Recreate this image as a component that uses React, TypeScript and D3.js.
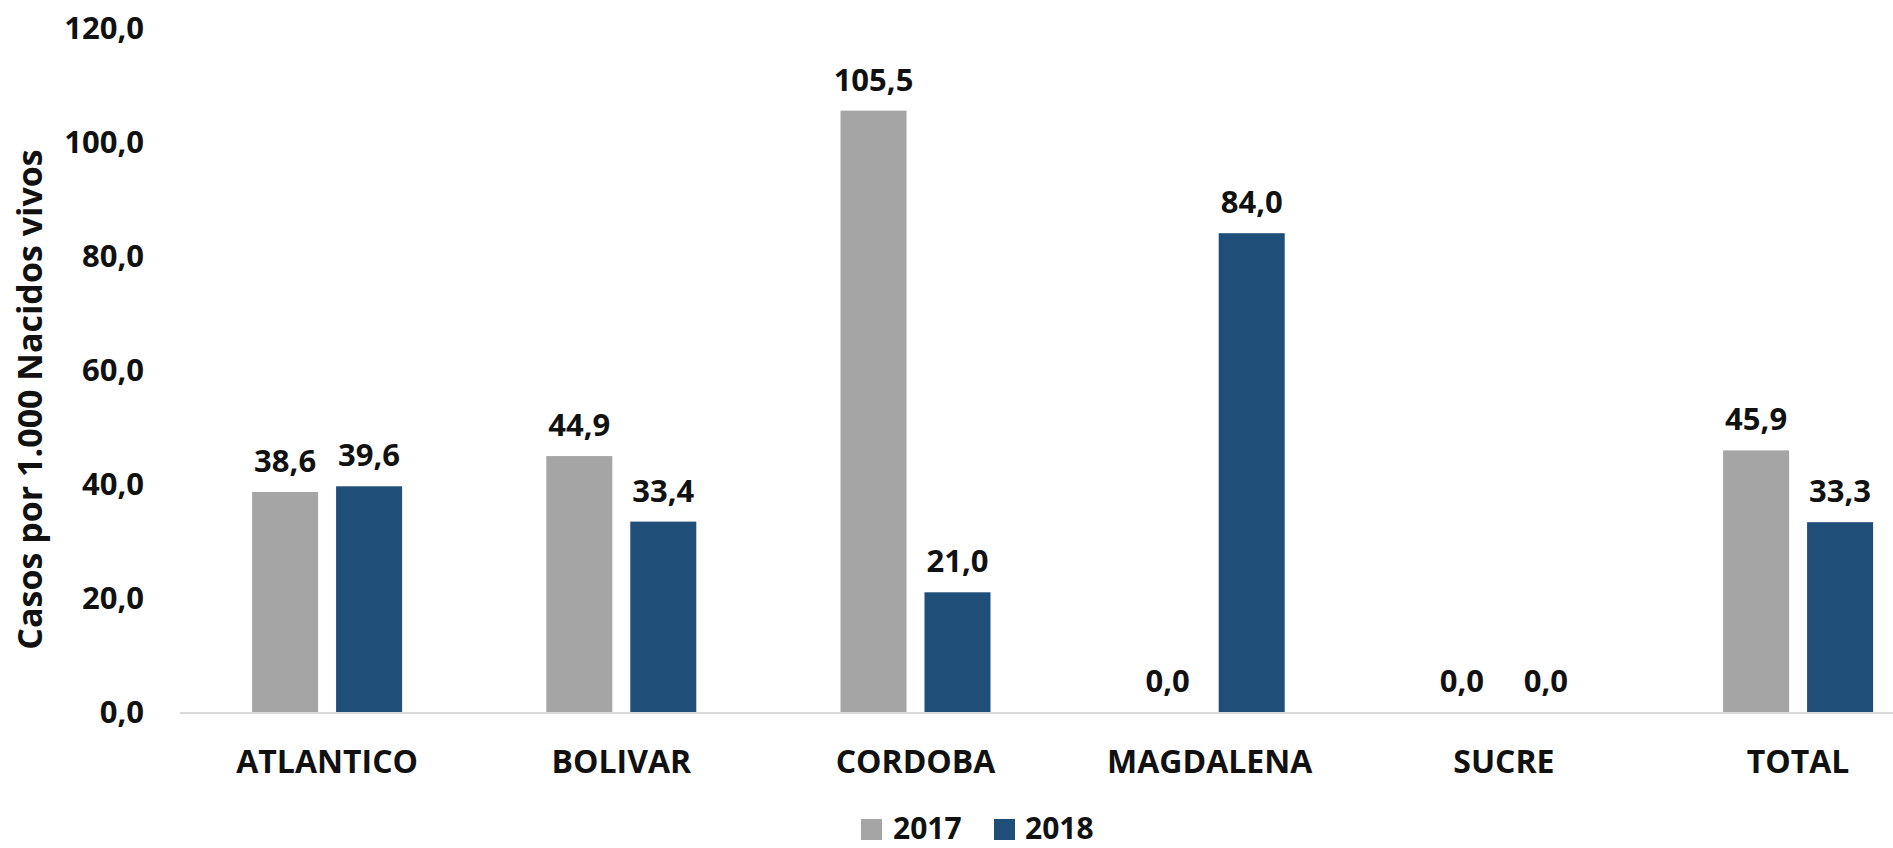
import React from "react";
import * as d3 from "d3";

const categories = ["ATLANTICO", "BOLIVAR", "CORDOBA", "MAGDALENA", "SUCRE", "TOTAL"];
const series = ["2017", "2018"];
const values2017 = [38.6, 44.9, 105.5, 0.0, 0.0, 45.9];
const values2018 = [39.6, 33.4, 21.0, 84.0, 0.0, 33.3];
const yTicks = [0, 20, 40, 60, 80, 100, 120];
const colors = { "2017": "#A5A5A5", "2018": "#1F4E79" };

const width = 1893;
const height = 848;
const font = "'Open Sans', sans-serif";

const fmt = (v: number) => v.toFixed(1).replace(".", ",");

export default function App() {
  const x = d3.scaleBand().domain(categories).range([180, 180 + 6 * 294.2]);
  const x1 = d3.scaleBand().domain(series).range([-75, 75]).paddingInner(0.214);
  const y = d3.scaleLinear().domain([0, 120]).range([712, 28]);

  const rows = categories.map((c, i) => ({
    cat: c,
    vals: [
      { key: "2017", v: values2017[i] },
      { key: "2018", v: values2018[i] },
    ],
  }));

  return (
    <svg width={width} height={height} style={{ display: "block", position: "absolute", left: 0, top: 0 }}>
      <rect width={width} height={height} fill="#fff" />
      {/* y ticks */}
      {yTicks.map(t => (
        <text key={t} x={144} y={y(t)} dy="0.36em" textAnchor="end"
          fontFamily={font} fontWeight={700} fontSize={31} fill="#111">
          {fmt(t)}
        </text>
      ))}
      <text transform={`translate(30, ${(135 + 664) / 2}) rotate(-90)`} textAnchor="middle" dy="0.36em"
        fontFamily={font} fontWeight={700} fontSize={34} fill="#111">
        Casos por 1.000 Nacidos vivos
      </text>
      {/* bars */}
      {rows.map(r => (
        <g key={r.cat} transform={`translate(${x(r.cat)! + x.bandwidth() / 2},0)`}>
          {r.vals.map(d => (
            <g key={d.key}>
              <rect x={x1(d.key)} y={y(d.v)} width={x1.bandwidth()} height={y(0) - y(d.v)}
                fill={colors[d.key as "2017" | "2018"]} />
              <text x={x1(d.key)! + x1.bandwidth() / 2} y={y(d.v) - 20} textAnchor="middle"
                fontFamily={font} fontWeight={700} fontSize={31} fill="#111">
                {fmt(d.v)}
              </text>
            </g>
          ))}
          <text x={0} y={761} dy="0.36em" textAnchor="middle"
            fontFamily={font} fontWeight={700} fontSize={32} fill="#111">
            {r.cat}
          </text>
        </g>
      ))}
      <line x1={180} x2={width} y1={y(0) + 1} y2={y(0) + 1} stroke="#d9d9d9" strokeWidth={2} />
      {/* legend */}
      <g>
        <rect x={861} y={819} width={21} height={21} fill={colors["2017"]} />
        <text x={893} y={828} dy="0.36em" fontFamily={font} fontWeight={700} fontSize={30} fill="#111">2017</text>
        <rect x={994} y={819} width={21} height={21} fill={colors["2018"]} />
        <text x={1025} y={828} dy="0.36em" fontFamily={font} fontWeight={700} fontSize={30} fill="#111">2018</text>
      </g>
    </svg>
  );
}
